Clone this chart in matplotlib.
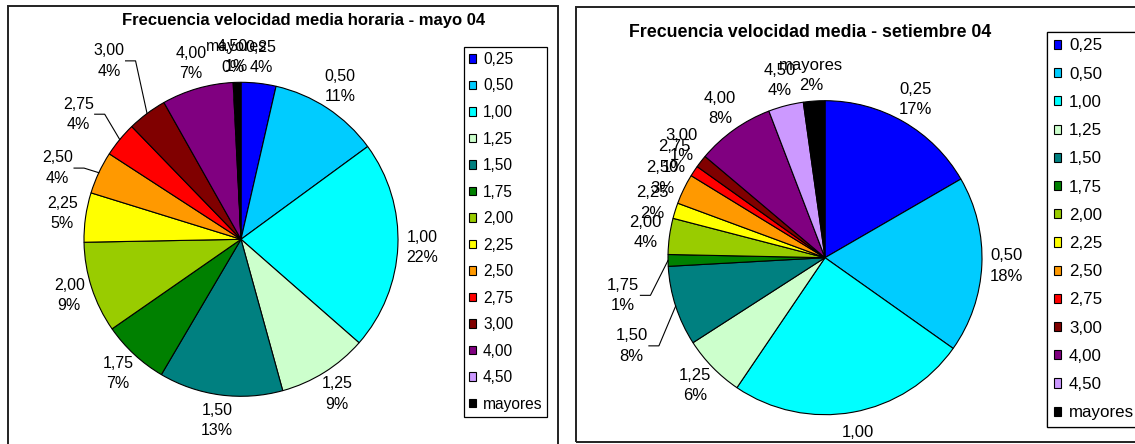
import numpy as np
import matplotlib.pyplot as plt
from matplotlib.patches import Rectangle

# categorias de velocidad (leyenda) y colores de la paleta de Excel
categorias = ['0,25', '0,50', '1,00', '1,25', '1,50', '1,75', '2,00',
              '2,25', '2,50', '2,75', '3,00', '4,00', '4,50', 'mayores']
colores = ['#0000FF', '#00CCFF', '#00FFFF', '#CCFFCC', '#008080', '#008000',
           '#99CC00', '#FFFF00', '#FF9900', '#FF0000', '#800000', '#800080',
           '#CC99FF', '#000000']

# frecuencias (%)
mayo = [3.6, 11.4, 21.6, 9.3, 12.8, 6.9, 9.4, 5.1, 4.4, 3.6, 4.1, 7.4, 0.1, 0.7]
setiembre = [16.6, 18.1, 24.6, 6.4, 8.2, 1.2, 3.7, 1.6, 3.1, 1.1, 1.3, 8.0, 3.6, 2.2]

plt.rcParams['font.family'] = ['Liberation Sans', 'DejaVu Sans']

W, H = 1135, 444
fig = plt.figure(figsize=(W / 100, H / 100), dpi=100)
ax = fig.add_axes([0, 0, 1, 1])

# etiquetas movidas a mano en el original: (separacion extra, giro en grados)
ajustes_izq = {'3,00': (40, 0), '2,75': (24, 2.2), '2,50': (16, 4.1)}
ajustes_der = {'1,75': (24, 9.5), '1,50': (31, 6.4), '1,00': (5, 0)}
con_linea = {'3,00', '2,75', '2,50', '1,75', '1,50'}


def torta(valores, centro, radio, titulo, pos_titulo, fs_tit, fs_lab,
          esquina_ley, ley_kw):
    wedges, _ = ax.pie(valores, colors=colores, startangle=90, counterclock=False,
                       center=centro, radius=radio, frame=True,
                       wedgeprops=dict(edgecolor='black', linewidth=0.8))
    ax.text(pos_titulo[0], pos_titulo[1], titulo, fontsize=fs_tit,
            fontweight='bold', ha='center', va='center')
    total = sum(valores)
    etiquetas = []
    for w, cat, v in zip(wedges, categorias, valores):
        t = ax.text(0, 0, f"{cat}\n{round(v / total * 100):.0f}%", fontsize=fs_lab,
                    ha='center', va='center', multialignment='center', linespacing=1.45)
        etiquetas.append((w, cat, t))
    leg = ax.legend(wedges, categorias, loc='upper left', bbox_to_anchor=esquina_ley,
                    bbox_transform=ax.transData, borderaxespad=0, fancybox=False,
                    edgecolor='black', framealpha=1, handlelength=0.45,
                    handleheight=0.45, handletextpad=0.45, **ley_kw)
    leg.get_frame().set_linewidth(0.9)
    ax.add_artist(leg)
    return etiquetas


centro_izq, centro_der = (241, 204.7), (825, 186.3)
izq = torta(mayo, centro_izq, 157, 'Frecuencia velocidad media horaria - mayo 04',
            (304, 423), 12, 11.5,
            (464, H - 47), dict(fontsize=11.2, labelspacing=0.74, borderpad=0.32))
der = torta(setiembre, centro_der, 157, 'Frecuencia velocidad media - setiembre 04',
            (810, 411.7), 12.8, 12,
            (1047, H - 31.7), dict(fontsize=12.2, labelspacing=0.78, borderpad=0.4))

ax.set_xlim(0, W)
ax.set_ylim(0, H)
ax.axis('off')

fig.canvas.draw()
renderer = fig.canvas.get_renderer()

for etiquetas, centro, ajustes in ((izq, centro_izq, ajustes_izq),
                                  (der, centro_der, ajustes_der)):
    for w, cat, t in etiquetas:
        bb = t.get_window_extent(renderer)
        tw, th = bb.width, bb.height
        mid = np.deg2rad((w.theta1 + w.theta2) / 2)
        extra, giro = ajustes.get(cat, (0, 0))
        a = mid + np.deg2rad(giro)
        ux, uy = np.cos(a), np.sin(a)
        d = w.r + 8 + extra
        cx = centro[0] + d * ux + tw / 2 * ux
        cy = centro[1] + d * uy + th / 2 * uy
        t.set_position((cx, cy))
        if cat in ajustes and cat in con_linea:
            lado = 1 if ux < 0 else -1
            x0 = cx + lado * (tw / 2 + 1)
            ex = centro[0] + w.r * np.cos(mid)
            ey = centro[1] + w.r * np.sin(mid)
            ax.plot([x0, x0 + lado * 10, ex], [cy, cy, ey], color='black', lw=0.8)

# marcos de los dos graficos
ax.add_patch(Rectangle((8, -10), 550, H - 6 + 10, fill=False, edgecolor='#222222', lw=1.4))
ax.add_patch(Rectangle((576, 1.7), 600, 435.6, fill=False, edgecolor='#222222', lw=1.4))

fig.savefig('out.png', dpi=100)
